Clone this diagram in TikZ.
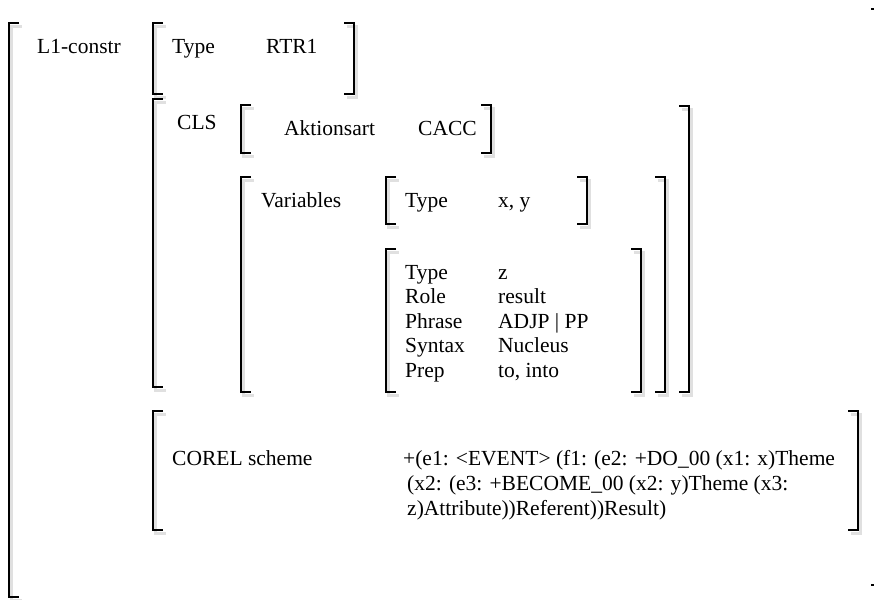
\documentclass[tikz,border=0pt]{standalone}
\usepackage{fontspec}
\setmainfont{Liberation Serif}
\usepackage{tikz}
\usetikzlibrary{positioning}

\begin{document}
\begin{tikzpicture}[
  x=1pt, y=-1pt,
  font=\fontsize{21.5}{24.5}\selectfont,
  brk/.style={line width=1.8pt,
    preaction={draw=black!12, line width=3.5pt,
      transform canvas={shift={(2.5pt,-3.5pt)}}}},
  lbl/.style={anchor=base west, inner sep=0pt},
]
\useasboundingbox (0,0) rectangle (874,599);

% Outer frame
\draw[brk] (19,23) -- (9,23) -- (9,597) -- (19,597);
\draw[line width=1.8pt] (871,9) -- (874,9);
\draw[line width=1.8pt] (871,585) -- (874,585);
\node[lbl] (lcon) at (37,54) {L1-constr};

% Type
\draw[brk] (163,23) -- (153,23) -- (153,94) -- (163,94);
\draw[brk] (344,23) -- (354,23) -- (354,94) -- (344,94);
\node[lbl] (type) at (172,54) {Type};
\node[lbl] (rtr) at (266,54) {RTR1};

% CLS
\draw[brk] (163,99) -- (153,99) -- (153,387) -- (163,387);
\draw[brk] (679,106) -- (689,106) -- (689,392) -- (679,392);
\node[lbl] (cls) at (177,129) {CLS};

% Aktionsart
\draw[brk] (251,105) -- (241,105) -- (241,153) -- (251,153);
\draw[brk] (481,105) -- (491,105) -- (491,153) -- (481,153);
\node[lbl] (akt) at (284,135) {Aktionsart};
\node[lbl] (cacc) at (418,135) {CACC};

% Variables
\draw[brk] (251,177) -- (241,177) -- (241,392) -- (251,392);
\draw[brk] (655,177) -- (665,177) -- (665,392) -- (655,392);
\node[lbl] (vars) at (261,207) {Variables};

% Variable x, y
\draw[brk] (396,177) -- (386,177) -- (386,224) -- (396,224);
\draw[brk] (577,177) -- (587,177) -- (587,224) -- (577,224);
\node[lbl] (typexy) at (405,207) {Type};
\node[lbl] (valxy) at (498,207) {x, y};

% Variable z
\draw[brk] (396,249) -- (386,249) -- (386,392) -- (396,392);
\draw[brk] (631,249) -- (641,249) -- (641,392) -- (631,392);
\node[lbl] (typez) at (405,279) {Type};
\node[lbl] (valz) at (498,279) {z};
\node[lbl] (role) at (405,303.5) {Role};
\node[lbl] (valrole) at (498,303.5) {result};
\node[lbl] (phrase) at (405,328) {Phrase};
\node[lbl] (valphrase) at (498,328) {ADJP | PP};
\node[lbl] (syntax) at (405,352.5) {Syntax};
\node[lbl] (valsyntax) at (498,352.5) {Nucleus};
\node[lbl] (prep) at (405,377) {Prep};
\node[lbl] (valprep) at (498,377) {to, into};

% COREL scheme
\draw[brk] (163,411) -- (153,411) -- (153,530) -- (163,530);
\draw[brk] (848,411) -- (858,411) -- (858,530) -- (848,530);
\node[lbl] (corel) at (172,465) {COREL scheme};
\node[lbl] (sch1) at (403,465) {+(e1: <EVENT> (f1: (e2: +DO\_00 (x1: x)Theme};
\node[lbl] (sch2) at (407,490) {(x2: (e3: +BECOME\_00 (x2: y)Theme (x3:};
\node[lbl] (sch3) at (407,515) {z)Attribute))Referent))Result)};

\end{tikzpicture}
\end{document}
